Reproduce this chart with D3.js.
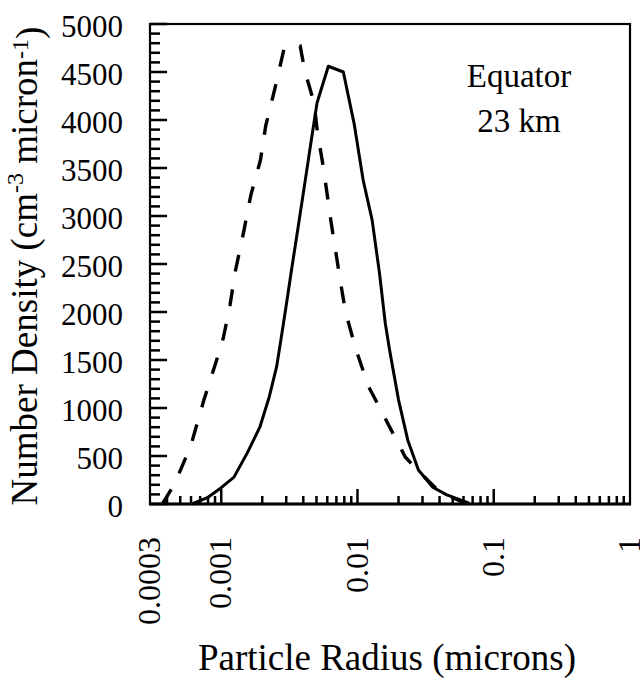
<!DOCTYPE html>
<html>
<head>
<meta charset="utf-8">
<script src="https://cdn.jsdelivr.net/npm/d3@7"></script>
<style>
  body { margin: 0; background: #fff; }
  svg { display: block; }
  text { font-family: "Liberation Serif", "Times New Roman", serif; fill: #000; }
</style>
</head>
<body>
<svg id="chart" width="640" height="681"></svg>
<script>
// Particle radius (microns) and number density (cm^-3 micron^-1)
const solidRadius  = [0.00061, 0.00080, 0.00100, 0.00124, 0.00155, 0.00192, 0.00225, 0.00255,
                      0.00279, 0.00304, 0.00328, 0.00364, 0.00417, 0.00458, 0.00505, 0.00611,
                      0.00787, 0.00944, 0.0110, 0.0128, 0.0145, 0.0160, 0.0172, 0.0200,
                      0.0234, 0.0280, 0.0357, 0.0452, 0.066];
const solidDensity = [0, 70, 170, 280, 530, 800, 1115, 1430,
                      1780, 2125, 2440, 2855, 3405, 3790, 4180, 4560,
                      4500, 3965, 3375, 2960, 2405, 1880, 1605, 1085,
                      665, 355, 175, 95, 10];

const dashedRadius  = [0.00037, 0.000454, 0.000597, 0.000746, 0.000916, 0.00104, 0.00116, 0.00127,
                       0.00146, 0.00165, 0.00194, 0.00212, 0.00248, 0.00290, 0.00316, 0.00380,
                       0.00409, 0.00480, 0.00508, 0.00558, 0.00603, 0.00638, 0.00693, 0.00754,
                       0.00820, 0.00972, 0.0120, 0.0151, 0.0188, 0.0224, 0.0275, 0.0402, 0.0611];
const dashedDensity = [0, 208, 604, 1083, 1479, 1740, 2073, 2427,
                       2833, 3219, 3583, 3938, 4333, 4750, 4780, 4770,
                       4521, 4177, 3875, 3531, 3198, 2948, 2625, 2292,
                       1990, 1615, 1229, 958, 698, 490, 354, 125, 10];

const radiusTicks      = [0.0003, 0.001, 0.01, 0.1, 1];
const radiusTickLabels = ["0.0003", "0.001", "0.01", "0.1", "1"];
const densityTicks     = [0, 500, 1000, 1500, 2000, 2500, 3000, 3500, 4000, 4500, 5000];

const xTitle = "Particle Radius (microns)";
const annotation = ["Equator", "23 km"];

const svg = d3.select("#chart");
const plot = { left: 150, right: 630, top: 24, bottom: 504 };
const g = svg.append("g");

const x = d3.scaleLog().domain([0.0003, 1]).range([plot.left, plot.right]);
const y = d3.scaleLinear().domain([0, 5000]).range([plot.bottom, plot.top]);

// minor log ticks: 2..9 within each decade
const minorX = [];
[0.0001, 0.001, 0.01, 0.1].forEach(d => {
  for (let k = 2; k <= 9; k++) {
    const v = +(d * k).toPrecision(3);
    if (v > 0.0003 && v < 1) minorX.push(v);
  }
});
const minorY = d3.range(100, 5000, 100).filter(v => v % 500 !== 0);

// inward tick marks as small filled bars
const yTickMarks = minorY.map(v => ({ v, len: 10 })).concat(densityTicks.map(v => ({ v, len: 17 })));
const xTickMarks = minorX.map(v => ({ v, len: 8 })).concat(radiusTicks.slice(1, -1).map(v => ({ v, len: 15 })));

const tickLayer = g.append("g").attr("fill", "#000");
tickLayer.selectAll("rect.ytick").data(yTickMarks).join("rect")
  .attr("class", "ytick")
  .attr("x", plot.left).attr("y", d => y(d.v) - 1.25)
  .attr("width", d => d.len).attr("height", 2.5);
tickLayer.selectAll("rect.xtick").data(xTickMarks).join("rect")
  .attr("class", "xtick")
  .attr("x", d => x(d.v) - 1.25).attr("y", d => plot.bottom - d.len)
  .attr("width", 2.5).attr("height", d => d.len);

// tick labels
g.append("g").selectAll("text").data(densityTicks).join("text")
  .attr("x", plot.left - 27).attr("y", d => y(d))
  .attr("dy", "0.42em").attr("text-anchor", "end").attr("font-size", 31)
  .text(d3.format("d"));

g.append("g").selectAll("text").data(radiusTicks).join("text")
  .attr("transform", d => `translate(${x(d)},${plot.bottom + 33}) rotate(-90)`)
  .attr("dy", "0.32em").attr("text-anchor", "end").attr("font-size", 32)
  .text((d, i) => radiusTickLabels[i]);

// frame
g.append("rect")
  .attr("x", plot.left).attr("y", plot.top)
  .attr("width", plot.right - plot.left).attr("height", plot.bottom - plot.top)
  .attr("fill", "none").attr("stroke", "#000").attr("stroke-width", 2.2);
g.append("rect")
  .attr("x", plot.left - 1).attr("y", plot.bottom - 1.5)
  .attr("width", plot.right - plot.left + 2).attr("height", 3)
  .attr("fill", "#000");

// curves
const line = d3.line().x(d => x(d[0])).y(d => y(d[1]));
const solid = d3.zip(solidRadius, solidDensity);
const dashed = d3.zip(dashedRadius, dashedDensity);

g.append("path").datum(dashed)
  .attr("d", line).attr("fill", "none").attr("stroke", "#000")
  .attr("stroke-width", 3.4).attr("stroke-dasharray", "17,18");

g.append("path").datum(solid)
  .attr("d", line).attr("fill", "none").attr("stroke", "#000")
  .attr("stroke-width", 3).attr("stroke-linejoin", "round");

// annotation
const ann = g.append("text").attr("text-anchor", "middle").attr("font-size", 33);
ann.append("tspan").attr("x", 519).attr("y", 87).text(annotation[0]);
ann.append("tspan").attr("x", 519).attr("y", 132).text(annotation[1]);

// axis titles
g.append("text")
  .attr("x", 387).attr("y", 670)
  .attr("text-anchor", "middle").attr("font-size", 37)
  .text(xTitle);

const yt = g.append("text")
  .attr("transform", "translate(37,266) rotate(-90)")
  .attr("text-anchor", "middle").attr("font-size", 37);
yt.append("tspan").text("Number Density (cm");
yt.append("tspan").attr("font-size", 24).attr("dy", "-0.6em").text("-3");
yt.append("tspan").attr("dy", "0.39em").text(" micron");
yt.append("tspan").attr("font-size", 24).attr("dy", "-0.39em").text("-1");
yt.append("tspan").attr("dy", "0.39em").text(")");
</script>
</body>
</html>
